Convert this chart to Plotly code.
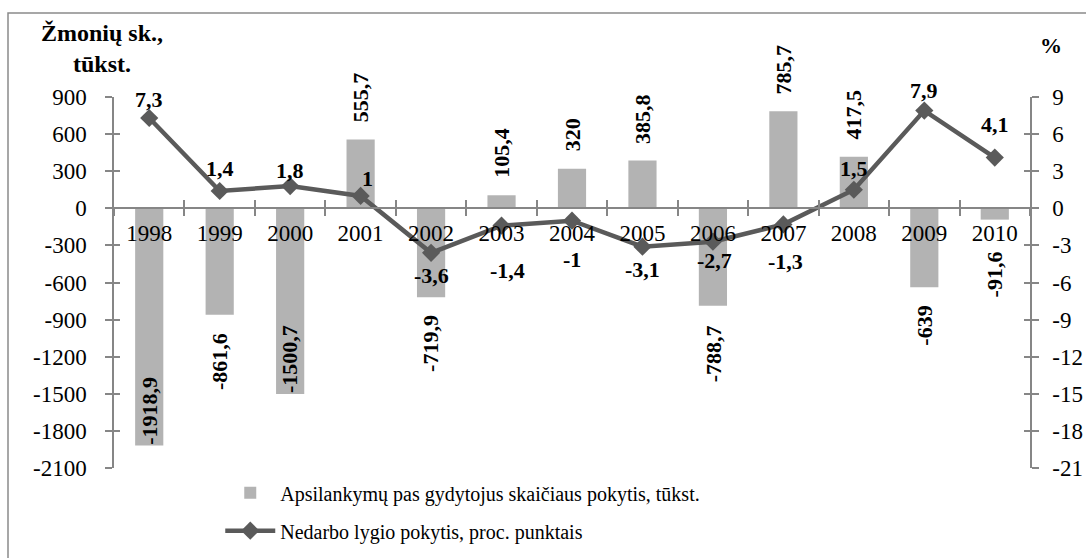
import plotly.graph_objects as go

# ---- data ----
years = ['1998', '1999', '2000', '2001', '2002', '2003', '2004',
         '2005', '2006', '2007', '2008', '2009', '2010']
visits_change = [-1918.9, -861.6, -1500.7, 555.7, -719.9, 105.4, 320,
                 385.8, -788.7, 785.7, 417.5, -639, -91.6]
unemp_change = [7.3, 1.4, 1.8, 1.0, -3.6, -1.4, -1.0, -3.1, -2.7, -1.3, 1.5, 7.9, 4.1]
left_ticks = [-2100, -1800, -1500, -1200, -900, -600, -300, 0, 300, 600, 900]
right_ticks = [-21, -18, -15, -12, -9, -6, -3, 0, 3, 6, 9]
bar_name = 'Apsilankymų pas gydytojus skaičiaus pokytis, tūkst.'
line_name = 'Nedarbo lygio pokytis, proc. punktais'
left_title = 'Žmonių sk.,<br>tūkst.'
right_title = '%'

# ---- label placement (style) ----
bar_label_pos = ['in', 'out', 'in', 'out', 'out', 'out', 'out',
                 'out', 'out', 'out', 'out', 'out', 'out']
bar_label_gap = [0, 17, 0, 16, 17, 16, 16, 16, 18, 16, 16, 17, 31]
line_label_dy = [19, 22, 16, 17, -23, -45, -39, -23, -19, -37, 21, 20, 33]
line_label_dx = [0, 0, 0, 7, 0, 6, 0, 0, 2, 2, 0, 0, 0]

FONT = 'Liberation Serif, Times New Roman, serif'
AXIS_COLOR = '#868686'
BAR_COLOR = '#b3b3b3'
LINE_COLOR = '#5a5a5a'
FS = 23
LFS = 22


def fmt(v):
    return f'{v:g}'.replace('.', ',')


fig = go.Figure()
fig.add_trace(go.Bar(
    x=years, y=visits_change, name=bar_name, width=0.4,
    marker=dict(color=BAR_COLOR, line=dict(width=0)),
    yaxis='y', xaxis='x', legendgroup='a'))
fig.add_trace(go.Scatter(
    x=years, y=unemp_change, name=line_name, mode='lines+markers',
    line=dict(color=LINE_COLOR, width=4.5),
    marker=dict(symbol='diamond', size=14, color=LINE_COLOR),
    yaxis='y2', xaxis='x', legendgroup='b'))
# invisible helpers so the overlay axes (crossing ticks) get drawn
fig.add_trace(go.Scatter(x=[], y=[], xaxis='x', yaxis='y3', showlegend=False, hoverinfo='skip'))
fig.add_trace(go.Scatter(x=[], y=[], xaxis='x', yaxis='y4', showlegend=False, hoverinfo='skip'))
fig.add_trace(go.Scatter(x=[], y=[], xaxis='x2', yaxis='y', showlegend=False, hoverinfo='skip'))

annotations = []
for i, (v, pos, gap) in enumerate(zip(visits_change, bar_label_pos, bar_label_gap)):
    if pos == 'in':
        ya, ys = 'bottom', 0
    elif v >= 0:
        ya, ys = 'bottom', gap
    else:
        ya, ys = 'top', -gap
    annotations.append(dict(
        x=i, y=v, xref='x', yref='y', text=f'<b>{fmt(v)}</b>', textangle=-90,
        showarrow=False, xanchor='center', yanchor=ya, yshift=ys,
        font=dict(family=FONT, size=LFS, color='black'), borderpad=0))
for i, (v, dy, dx) in enumerate(zip(unemp_change, line_label_dy, line_label_dx)):
    annotations.append(dict(
        x=i, y=v, xref='x', yref='y2', text=f'<b>{fmt(v)}</b>',
        showarrow=False, xanchor='center', yanchor='middle', yshift=dy, xshift=dx,
        font=dict(family=FONT, size=LFS, color='black'), borderpad=0))
annotations.append(dict(
    x=-0.0131, y=1.214, xref='paper', yref='paper', text=f'<b>{left_title}</b>',
    showarrow=False, xanchor='center', yanchor='top', align='center',
    font=dict(family=FONT, size=24, color='black')))
annotations.append(dict(
    x=1.023, y=1.140, xref='paper', yref='paper', text=f'<b>{right_title}</b>',
    showarrow=False, xanchor='center', yanchor='middle',
    font=dict(family=FONT, size=LFS, color='black')))

yrange_l = [left_ticks[0], left_ticks[-1]]
yrange_r = [right_ticks[0], right_ticks[-1]]
zero_pos = (0 - yrange_l[0]) / (yrange_l[1] - yrange_l[0])
n = len(years)
xb = [i - 0.5 for i in range(n + 1)]

common_axis = dict(showgrid=False, zeroline=False, color=AXIS_COLOR,
                   linecolor=AXIS_COLOR, linewidth=1.5, tickcolor=AXIS_COLOR,
                   tickwidth=1.5, automargin=False)

fig.update_layout(
    width=1086, height=558,
    margin=dict(l=114, r=56, t=97, b=90, autoexpand=False),
    paper_bgcolor='white', plot_bgcolor='white',
    font=dict(family=FONT, size=FS, color='black'),
    showlegend=True,
    legend=dict(x=0.116, y=-0.014, xanchor='left', yanchor='top',
                font=dict(family=FONT, size=20, color='black'),
                traceorder='grouped', tracegroupgap=9,
                bgcolor='rgba(0,0,0,0)', itemwidth=50),
    xaxis=dict(type='category', categoryorder='array', categoryarray=years,
               range=[-0.5, n - 0.5], anchor='free', position=zero_pos,
               showline=True, ticks='outside', ticklen=7, tickson='boundaries',
               ticklabelstandoff=4,
               tickfont=dict(family=FONT, size=FS, color='black'), **common_axis),
    xaxis2=dict(overlaying='x', range=[-0.5, n - 0.5], anchor='free', position=zero_pos,
                showline=False, ticks='inside', ticklen=8, tickmode='array', tickvals=xb,
                showticklabels=False, **common_axis),
    yaxis=dict(range=yrange_l, tickmode='array', tickvals=left_ticks,
               ticktext=[str(t) for t in left_ticks], showline=True, side='left',
               ticks='outside', ticklen=7, ticklabelstandoff=14,
               tickfont=dict(family=FONT, size=FS, color='black'), **common_axis),
    yaxis2=dict(range=yrange_r, tickmode='array', tickvals=right_ticks,
                ticktext=[str(t) for t in right_ticks], overlaying='y', side='right',
                showline=True, ticks='outside', ticklen=7, ticklabelstandoff=9,
                tickfont=dict(family=FONT, size=FS, color='black'), **common_axis),
    yaxis3=dict(range=yrange_l, tickmode='array', tickvals=left_ticks, overlaying='y',
                side='left', showline=False, ticks='inside', ticklen=6,
                showticklabels=False, **common_axis),
    yaxis4=dict(range=yrange_r, tickmode='array', tickvals=right_ticks, overlaying='y',
                side='right', showline=False, ticks='inside', ticklen=6,
                showticklabels=False, **common_axis),
    annotations=annotations,
    shapes=[dict(type='rect', xref='paper', yref='paper',
                 x0=(8 - 114) / 916, x1=(1100 - 114) / 916,
                 y0=(468 - 580) / 371, y1=(468 - 13) / 371,
                 line=dict(color='#8a8a8a', width=1.5), fillcolor='rgba(0,0,0,0)',
                 layer='below')],
)

# remove the browser's default 8px body margin so the figure fills the window
fig.write_html('out.html',
               config={'displayModeBar': False},
               post_script="document.body.style.margin='0';"
                           "document.body.style.overflow='hidden';")
